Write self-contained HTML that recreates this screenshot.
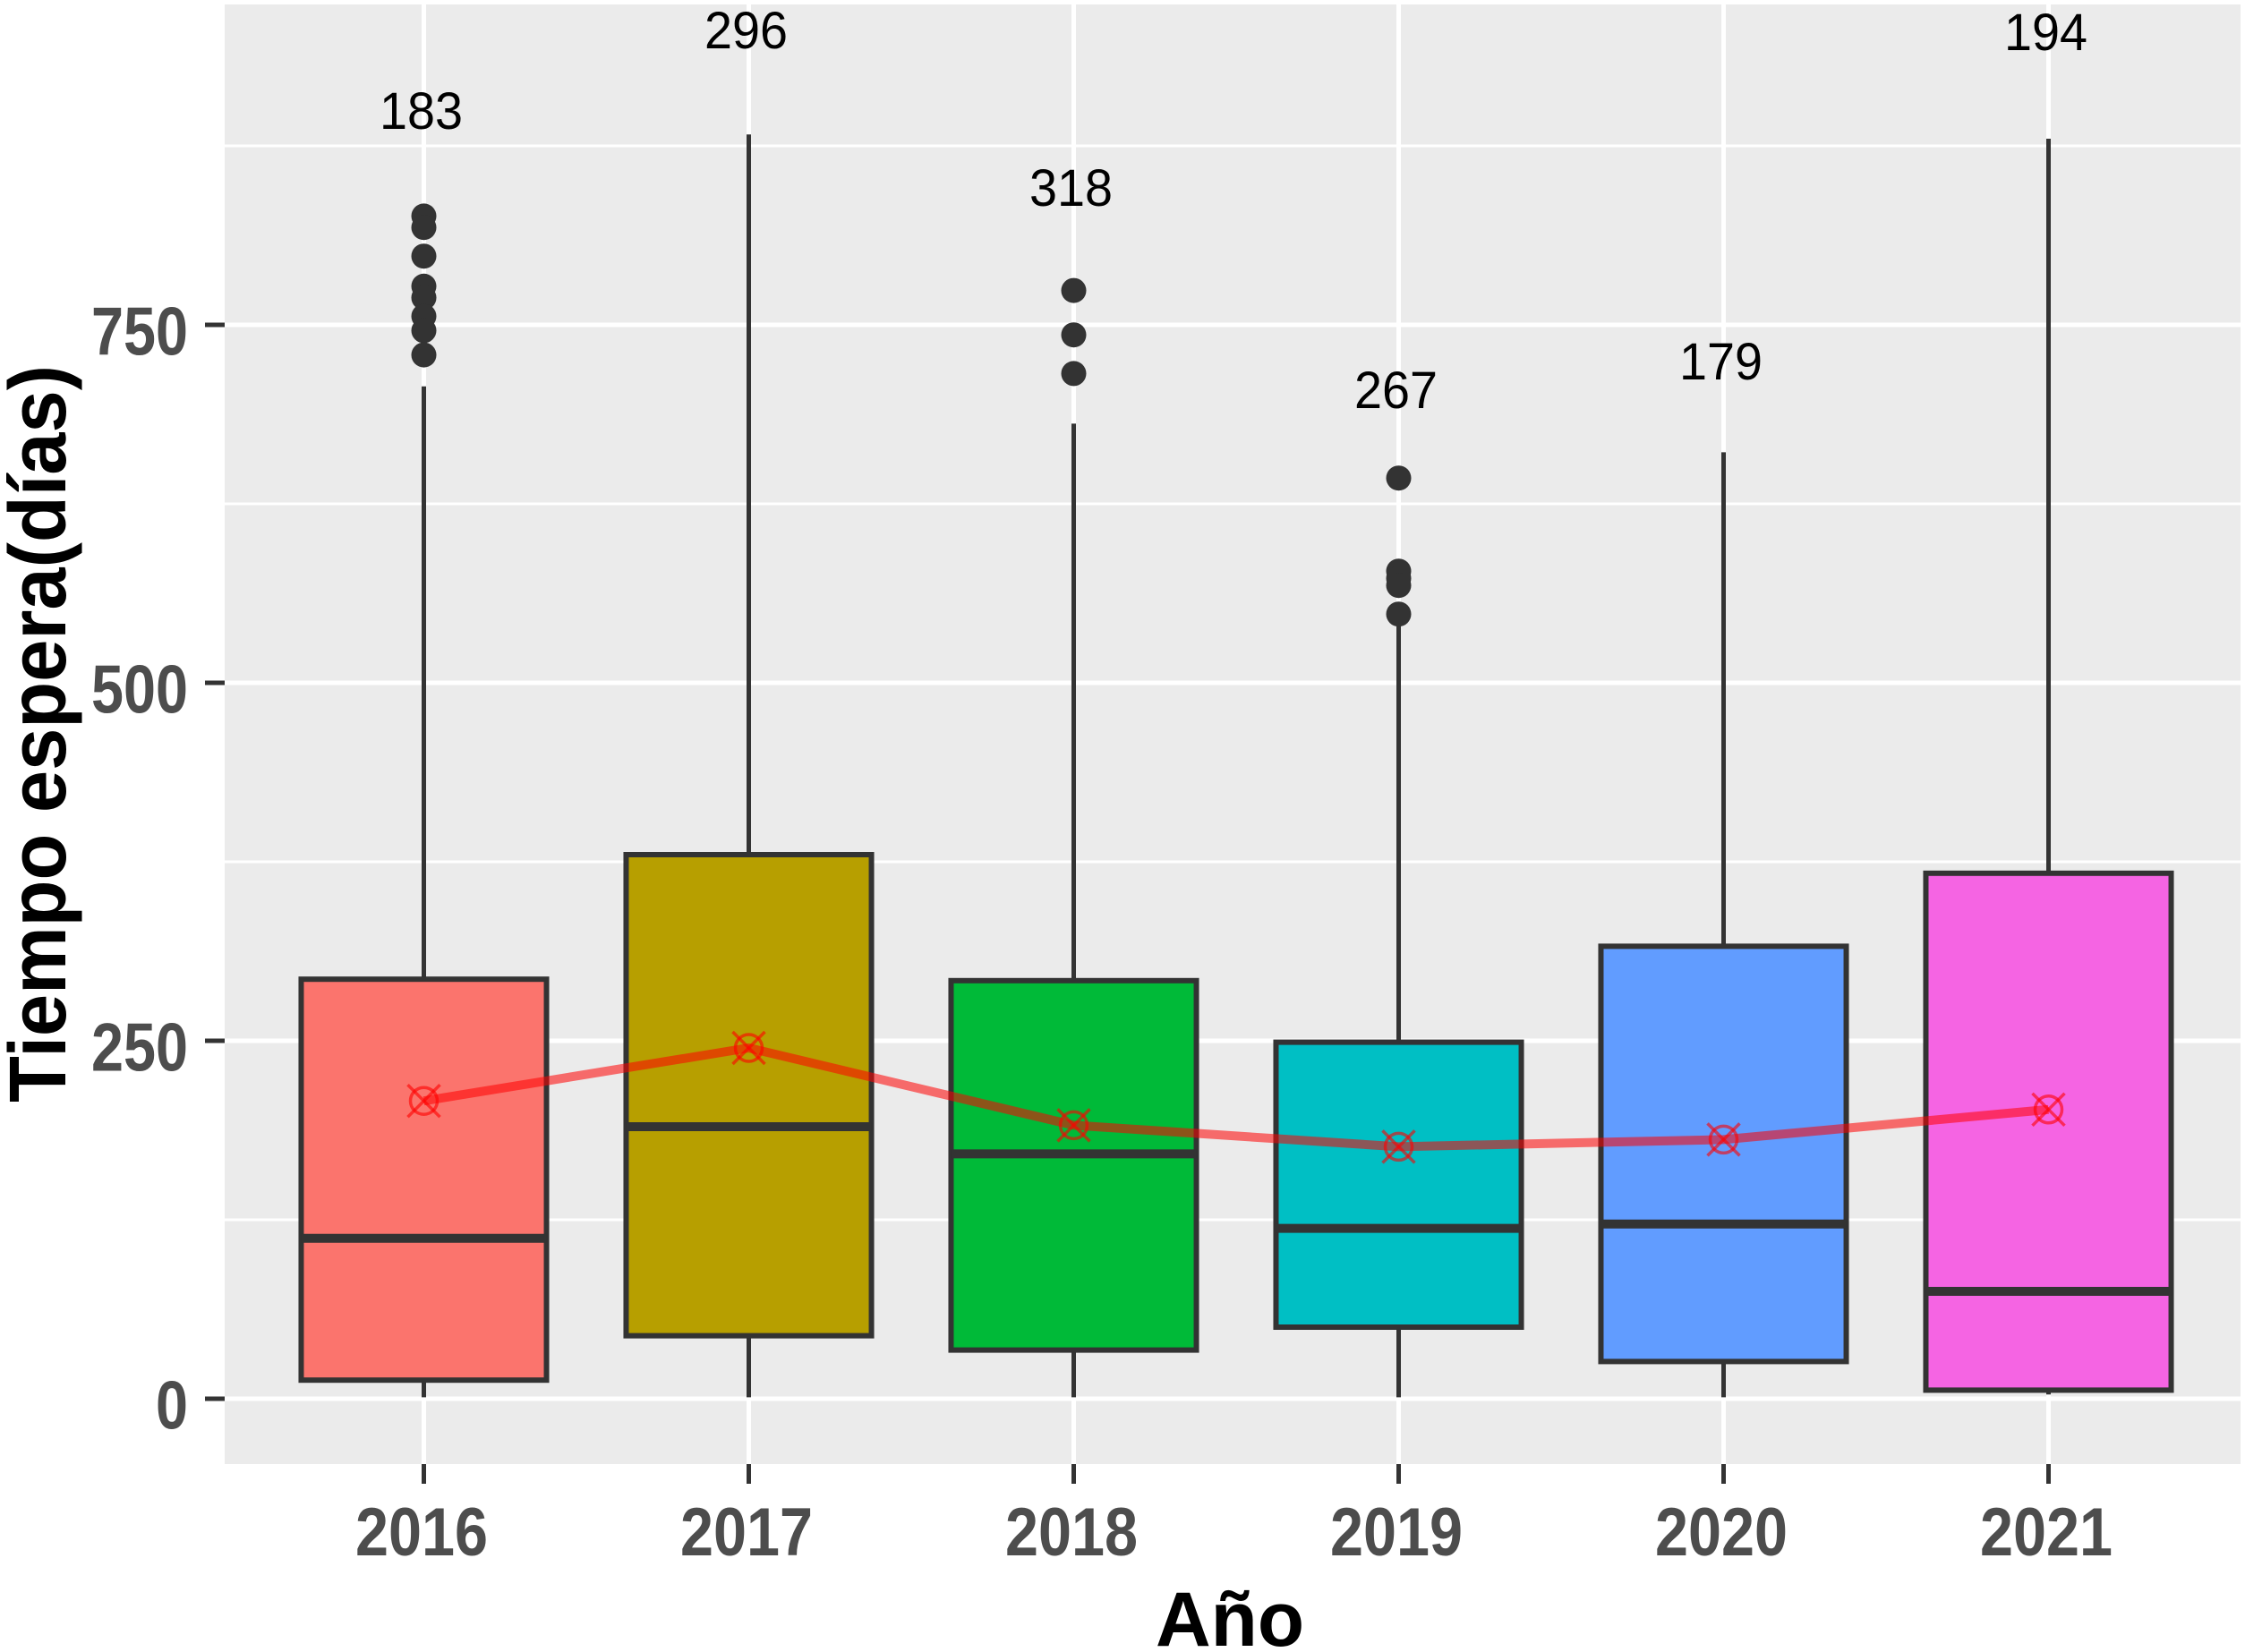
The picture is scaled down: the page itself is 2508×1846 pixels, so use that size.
<!DOCTYPE html>
<html>
<head>
<meta charset="utf-8">
<title>Tiempo de espera por año</title>
<style>
html,body{margin:0;padding:0;background:#fff;}
svg{display:block;}
text{font-family:"Liberation Sans",sans-serif;}
</style>
</head>
<body>
<svg id="chart" xmlns="http://www.w3.org/2000/svg" width="2508" height="1846" viewBox="0 0 2508 1846"></svg>
<script>
const categories = ['2016', '2017', '2018', '2019', '2020', '2021'];
const q1Values = [13, 44, 34, 50, 26, 6];
const medianValues = [112, 190, 171, 119, 122, 75];
const q3Values = [293, 380, 292, 249, 316, 367];
const whiskerLow = [1, 1, 1, 1, 1, 3];
const whiskerHigh = [707, 883, 681, 555, 661, 880];
const meanValues = [208, 245, 191, 176, 181, 202];
const outliers2016 = [826, 818, 798, 777, 769, 756, 746, 729];
const outliers2017 = [];
const outliers2018 = [774, 743, 716];
const outliers2019 = [643, 578, 573, 568, 548];
const outliers2020 = [];
const outliers2021 = [];
const countLabels = ['183', '296', '318', '267', '179', '194'];
const countLabelLevels = [887, 943, 833, 692, 712, 942];
const yMajorTicks = [0, 250, 500, 750];
const yMinorTicks = [125, 375, 625, 875];
const fillColors = ['#FB746D', '#B79F00', '#00BA38', '#00BFC4', '#619CFF', '#F564E3'];

const outlierSeries = [outliers2016, outliers2017, outliers2018, outliers2019, outliers2020, outliers2021];
const panel = { left: 251, right: 2503, top: 5, bottom: 1636 };
const svg = document.getElementById('chart');
const NS = 'http://www.w3.org/2000/svg';

function xScale(i) { return 473.5 + i * 363; }
function yScale(v) { return 1563 - v * 1.6; }
function make(tag, attrs, parent) {
  const el = document.createElementNS(NS, tag);
  for (const k in attrs) el.setAttribute(k, attrs[k]);
  (parent || svg).appendChild(el);
  return el;
}

let el = make('rect', { x: panel.left, y: panel.top, width: panel.right - panel.left, height: panel.bottom - panel.top, fill: '#EBEBEB' });



yMinorTicks.forEach(function (v) {
  const g = make('line', { x1: panel.left, x2: panel.right, y1: yScale(v), y2: yScale(v), stroke: '#fff', 'stroke-width': 3 });
  
  
});
yMajorTicks.forEach(function (v) {
  const g = make('line', { x1: panel.left, x2: panel.right, y1: yScale(v), y2: yScale(v), stroke: '#fff', 'stroke-width': 5 });
  
  
  const t = make('line', { x1: panel.left - 22, x2: panel.left, y1: yScale(v), y2: yScale(v), stroke: '#333', 'stroke-width': 5 });
  
  
  const s = String(v);
  const l = make('text', { x: 210, y: yScale(v) + 33.5, 'text-anchor': 'end', 'font-size': 76, 'font-weight': 'bold', fill: '#4D4D4D', textLength: s.length * 36, lengthAdjust: 'spacingAndGlyphs' });
  l.textContent = s;
  
  
});

categories.forEach(function (c, i) {
  const x = xScale(i);
  const g = make('line', { x1: x, x2: x, y1: panel.top, y2: panel.bottom, stroke: '#fff', 'stroke-width': 5 });
  
  
  const t = make('line', { x1: x, x2: x, y1: panel.bottom, y2: panel.bottom + 22, stroke: '#333', 'stroke-width': 5 });
  
  
  const l = make('text', { x: x - 2.5, y: 1738, 'text-anchor': 'middle', 'font-size': 76, 'font-weight': 'bold', fill: '#4D4D4D', textLength: c.length * 37, lengthAdjust: 'spacingAndGlyphs' });
  l.textContent = c;
  
  
});

const boxWidth = 0.755 * 363;
categories.forEach(function (c, i) {
  const x = xScale(i);
  const whisker = make('line', { x1: x, x2: x, y1: yScale(whiskerHigh[i]), y2: yScale(whiskerLow[i]), stroke: '#333', 'stroke-width': 5 });
  
  
  const box = make('rect', { x: x - boxWidth / 2, y: yScale(q3Values[i]), width: boxWidth, height: yScale(q1Values[i]) - yScale(q3Values[i]), fill: fillColors[i], stroke: '#333', 'stroke-width': 6 });
  
  
  const med = make('line', { x1: x - boxWidth / 2, x2: x + boxWidth / 2, y1: yScale(medianValues[i]), y2: yScale(medianValues[i]), stroke: '#333', 'stroke-width': 10 });
  
  
  outlierSeries[i].forEach(function (v) {
    const o = make('circle', { cx: x, cy: yScale(v), r: 14, fill: '#333' });
    
    
  });
});

const linePoints = meanValues.map(function (v, i) { return xScale(i) + ',' + yScale(v); }).join(' ');
el = make('polyline', { points: linePoints, fill: 'none', stroke: '#FF0000', 'stroke-opacity': 0.55, 'stroke-width': 10 });



meanValues.forEach(function (v, i) {
  const x = xScale(i), y = yScale(v), r = 18;
  const m = make('g', { stroke: '#FF0000', 'stroke-opacity': 0.6, 'stroke-width': 3.5, fill: 'none' });
  
  
  make('circle', { cx: x, cy: y, r: r - 3 }, m);
  make('line', { x1: x - r, y1: y - r, x2: x + r, y2: y + r }, m);
  make('line', { x1: x - r, y1: y + r, x2: x + r, y2: y - r }, m);
});

countLabels.forEach(function (s, i) {
  const l = make('text', { x: xScale(i) - 3, y: yScale(countLabelLevels[i]), 'text-anchor': 'middle', 'font-size': 58, fill: '#000', textLength: s.length * 31, lengthAdjust: 'spacingAndGlyphs' });
  l.textContent = s;
  
  
});

el = make('text', { transform: 'translate(73 820) rotate(-90)', 'text-anchor': 'middle', 'font-size': 90, 'font-weight': 'bold', fill: '#000', textLength: 824, lengthAdjust: 'spacingAndGlyphs' });
el.textContent = 'Tiempo espera(días)';



el = make('text', { x: 1374, y: 1839, 'text-anchor': 'middle', 'font-size': 86, 'font-weight': 'bold', fill: '#000', textLength: 166, lengthAdjust: 'spacingAndGlyphs' });
el.textContent = 'Año';


</script>
</body>
</html>
